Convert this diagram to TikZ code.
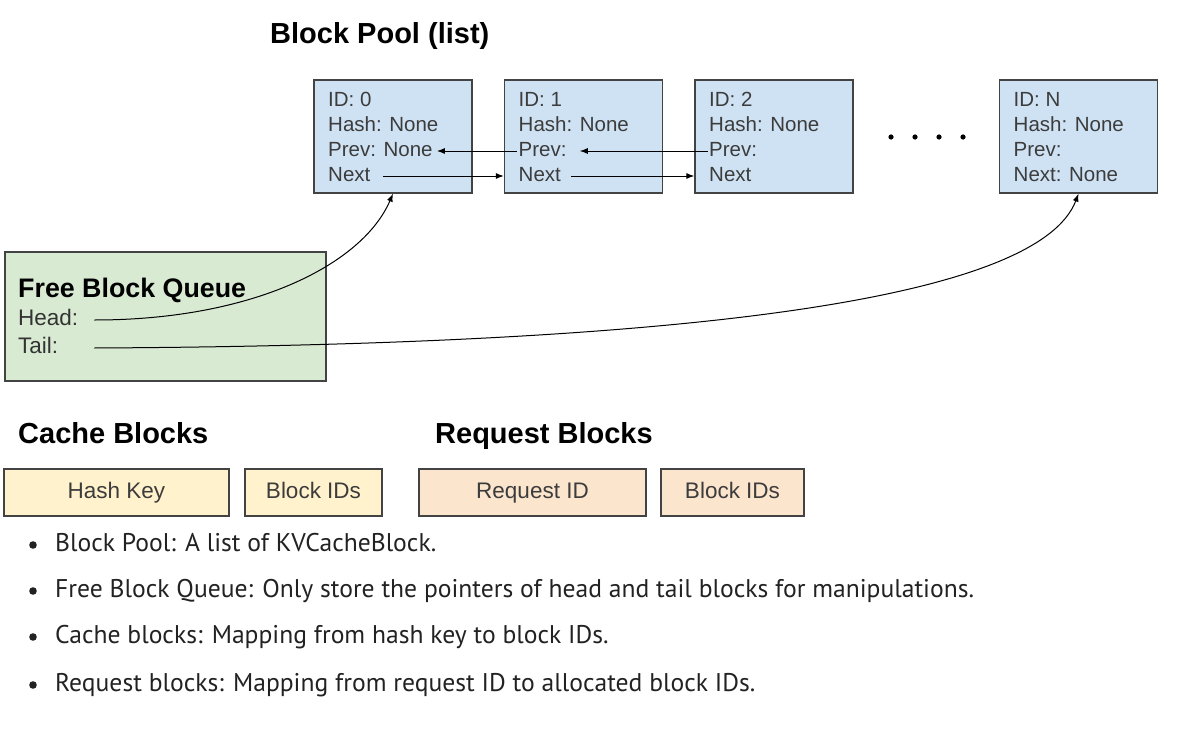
\documentclass[tikz,border=0pt]{standalone}
\usepackage{fontspec}
\setmainfont{Liberation Sans}
\newfontfamily\notefont{PT Sans}
\usetikzlibrary{positioning,arrows.meta}

\definecolor{poolblue}{HTML}{CFE2F3}
\definecolor{queuegreen}{HTML}{D9EAD3}
\definecolor{cacheyellow}{HTML}{FFF2CC}
\definecolor{reqorange}{HTML}{FCE5CD}
\definecolor{edgegray}{HTML}{434343}
\definecolor{fieldtext}{HTML}{3C3C3C}
\definecolor{notetext}{HTML}{222222}

\tikzset{
  blk/.style={draw=edgegray, fill=poolblue, line width=1.3pt, minimum width=158pt, minimum height=113pt, inner sep=0pt},
  fld/.style={anchor=west, inner sep=0pt, text=fieldtext, font=\fontsize{20.5}{23}\selectfont, text height=15pt, text depth=4pt},
  ttl/.style={anchor=west, inner sep=0pt, font=\fontsize{29}{33}\selectfont\bfseries, text height=21pt, text depth=6pt},
  keybox/.style={draw=edgegray, line width=1.3pt, minimum height=47pt, inner sep=0pt, text=fieldtext, font=\fontsize{22.5}{26}\selectfont, text height=16pt, text depth=5pt},
  ptr/.style={-{Latex[length=8pt,width=6pt]}, line width=1pt},
  note/.style={anchor=west, inner sep=0pt, text=notetext, font=\notefont\fontsize{25.6}{30}\selectfont, text height=18pt, text depth=6pt},
}

\begin{document}
\begin{tikzpicture}[x=1pt,y=-1pt]
\useasboundingbox (0,0) rectangle (1180,741);

% block pool
\node[ttl] (pooltitle) at (270,36) {Block Pool (list)};
\foreach \i/\cx/\id/\pv/\nx in {0/393/0/{Prev: None}/Next, 1/583.5/1/Prev:/Next,
    2/774/2/Prev:/Next, n/1078.5/N/Prev:/{Next: None}} {
  \node[blk] (b\i) at (\cx,136.5) {};
  \node[fld] (b\i id) at (\cx-65,101) {ID: \id};
  \node[fld] (b\i hash) at (\cx-65,126) {Hash: None};
  \node[fld] (b\i prev) at (\cx-65,151) {\pv};
  \node[fld] (b\i next) at (\cx-65,176) {\nx};
}
\foreach \dx in {891,915,939,963}
  \fill (\dx,137) circle (2.6pt);

% prev / next links
\draw[ptr] ([xshift=-2pt]b1prev.west) -- ([xshift=4pt]b0prev.east);
\draw[ptr] ([xshift=-1pt]b2prev.west) -- ([xshift=13pt]b1prev.east);
\draw[ptr] ([xshift=12pt]b0next.east) -- (b0next.east -| b1.west);
\draw[ptr] ([xshift=10pt]b1next.east) -- (b1next.east -| b2.west);

% free block queue
\node[draw=edgegray, fill=queuegreen, line width=1.3pt, minimum width=321pt, minimum height=129pt] (fq) at (165.5,316.5) {};
\node[anchor=west, inner sep=0pt, font=\fontsize{26.8}{30}\selectfont\bfseries] (fqtitle) at (18,290) {Free Block Queue};
\node[fld, text=black!80, font=\fontsize{22.5}{25}\selectfont] (fqhead) at (18,320) {Head:};
\node[fld, text=black!80, font=\fontsize{22.5}{25}\selectfont] (fqtail) at (18,348) {Tail:};
\draw[ptr] ([xshift=16pt]fqhead.east) .. controls +(160,0) and +(-30,70) .. (b0.south);
\draw[ptr] ([xshift=36pt]fqtail.east) .. controls +(600,-3) and +(-40,105) .. (bn.south);

% cache and request blocks
\node[ttl] (cachetitle) at (18,436) {Cache Blocks};
\node[ttl] (reqtitle) at (435,436) {Request Blocks};
\node[keybox, fill=cacheyellow, minimum width=225pt] (hashkey) at (116.5,492.5) {Hash Key};
\node[keybox, fill=cacheyellow, minimum width=137pt] (cacheids) at (313.5,492.5) {Block IDs};
\node[keybox, fill=reqorange, minimum width=227pt] (reqid) at (532.5,492.5) {Request ID};
\node[keybox, fill=reqorange, minimum width=143pt] (reqids) at (732.5,492.5) {Block IDs};

% notes
\foreach \y/\txt [count=\k] in {545/{Block Pool: A list of KVCacheBlock.},
    591/{Free Block Queue: Only store the pointers of head and tail blocks for manipulations.},
    637/{Cache blocks: Mapping from hash key to block IDs.},
    685/{Request blocks: Mapping from request ID to allocated block IDs.}} {
  \fill[notetext] (33,\y) circle (3.8pt);
  \node[note] (note\k) at (55,\y) {\txt};
}
\end{tikzpicture}
\end{document}
